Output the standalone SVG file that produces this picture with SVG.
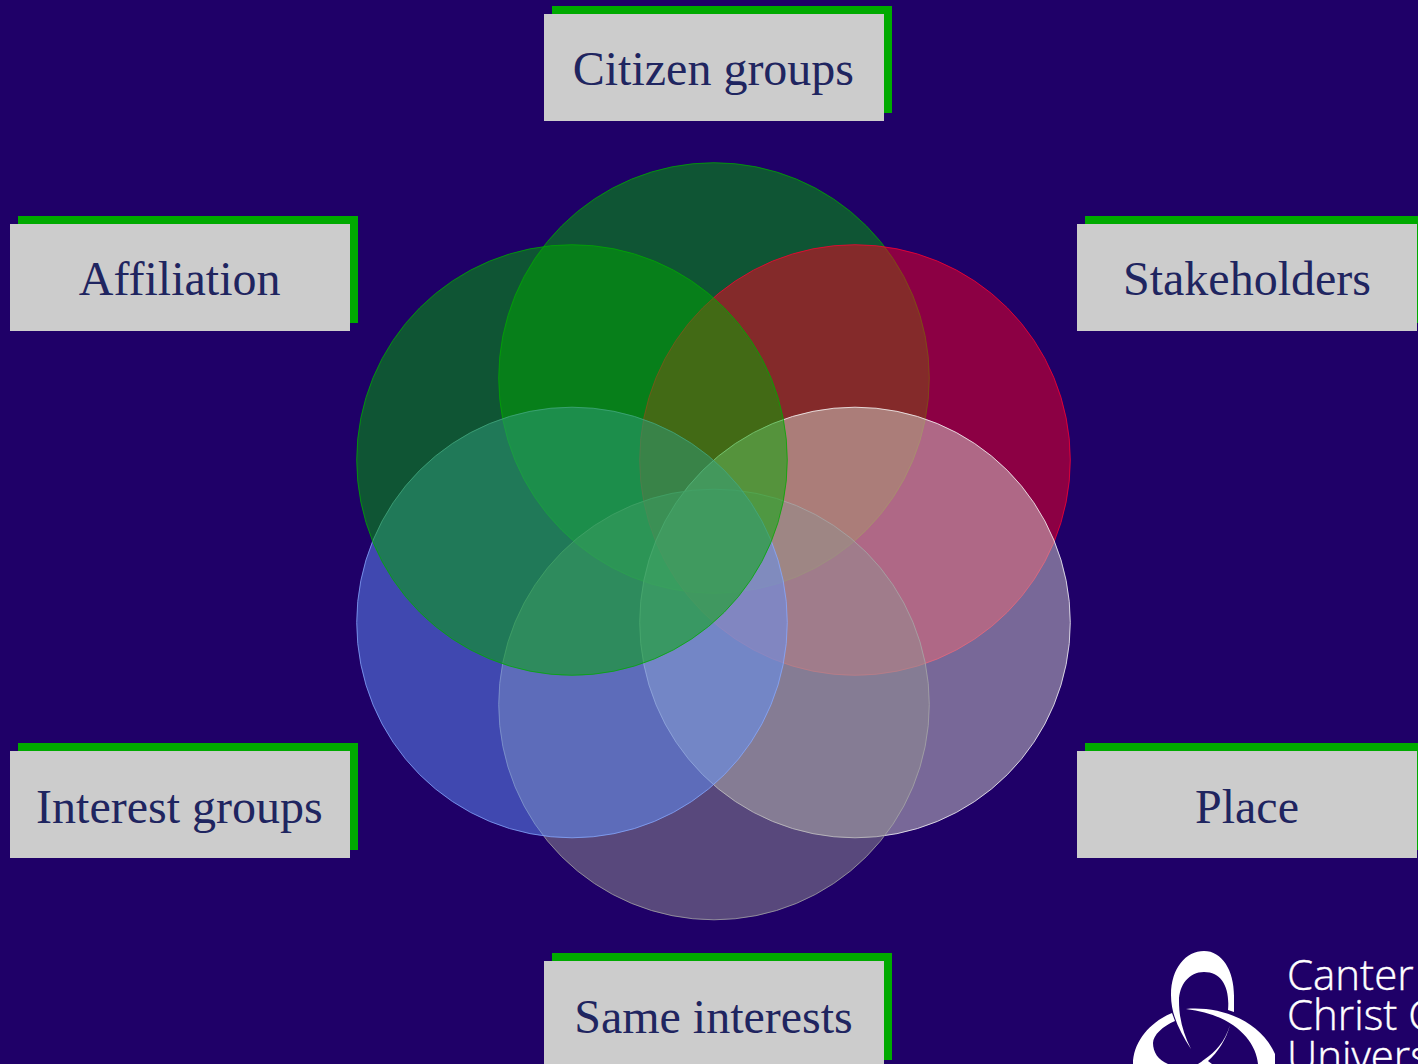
<svg xmlns="http://www.w3.org/2000/svg" width="1418" height="1064" viewBox="0 0 1418 1064">
<style>
.shadow{fill:#00aa00}
.box{fill:#cccccc}
.label{font-family:"Liberation Serif","Times New Roman",serif;font-size:48px;fill:#1f2560;text-anchor:middle}
.c{fill-opacity:.5;stroke-width:1;stroke-opacity:.75}
.logo{fill:#fff}
.logotext{font-family:"Open Sans","Noto Sans",sans-serif;font-size:42px;font-weight:300;fill:#fff;stroke:#fff;stroke-width:.4}
</style>
<rect width="1418" height="1064" fill="#1f0068"/>
<g id="circles">
<circle class="c" cx="714" cy="378" r="215.3" fill="#00aa00" stroke="#00aa00"/>
<circle class="c" cx="855" cy="460" r="215.3" fill="#fa0020" stroke="#ff0033"/>
<circle class="c" cx="855" cy="622.5" r="215.3" fill="#d1d0c8" stroke="#ffffff"/>
<circle class="c" cx="714" cy="704.5" r="215.3" fill="#919090" stroke="#a8a8a8"/>
<circle class="c" cx="572" cy="622.5" r="215.3" fill="#6190f8" stroke="#88aaff"/>
<circle class="c" cx="572" cy="460" r="215.3" fill="#00aa00" stroke="#00aa00"/>
</g>
<g id="citizen-groups"><rect class="shadow" x="552" y="6" width="340" height="107"/><rect class="box" x="544" y="14" width="340" height="107"/><text class="label" x="713.4" y="85">Citizen groups</text></g>
<g id="affiliation"><rect class="shadow" x="18" y="216" width="340" height="107"/><rect class="box" x="10" y="224" width="340" height="107"/><text class="label" x="179.6" y="295">Affiliation</text></g>
<g id="stakeholders"><rect class="shadow" x="1085" y="216" width="340" height="107"/><rect class="box" x="1077" y="224" width="340" height="107"/><text class="label" x="1247" y="295">Stakeholders</text></g>
<g id="interest-groups"><rect class="shadow" x="18" y="743" width="340" height="107"/><rect class="box" x="10" y="751" width="340" height="107"/><text class="label" x="179.4" y="823">Interest groups</text></g>
<g id="place"><rect class="shadow" x="1085" y="743" width="340" height="107"/><rect class="box" x="1077" y="751" width="340" height="107"/><text class="label" x="1247" y="823">Place</text></g>
<g id="same-interests"><rect class="shadow" x="552" y="953" width="340" height="107"/><rect class="box" x="544" y="961" width="340" height="107"/><text class="label" x="713.5" y="1033">Same interests</text></g>
<g id="logo">
<path class="logo" d="M1191 1049C1180 1032 1171 1015 1171 995C1171 968 1186 951 1204 951C1222 951 1234 970 1234 996L1234 1012L1228 1010C1230 988 1222 972 1204 972C1189 972 1179 985 1179 1001C1179 1018 1183 1033 1191 1049Z"/>
<path class="logo" d="M1186 1009C1220 1006 1260 1020 1275 1054L1275 1064L1258 1064C1256 1040 1232 1014 1186 1009Z"/>
<path class="logo" d="M1172 1013C1150 1022 1133 1042 1133 1064L1168 1064C1158 1060 1153 1052 1153 1043C1153 1035 1163 1026 1175 1021Z"/>
<path class="logo" d="M1230 1025C1225 1042 1215 1052 1205 1059C1202 1061 1200 1063 1198 1064L1212 1064L1208 1061C1218 1052 1226 1040 1230 1025Z"/>
<text class="logotext" x="1287" y="990">Canter</text>
<text class="logotext" x="1287" y="1030">Christ C</text>
<text class="logotext" x="1287" y="1071">Univers</text>
</g>
</svg>
